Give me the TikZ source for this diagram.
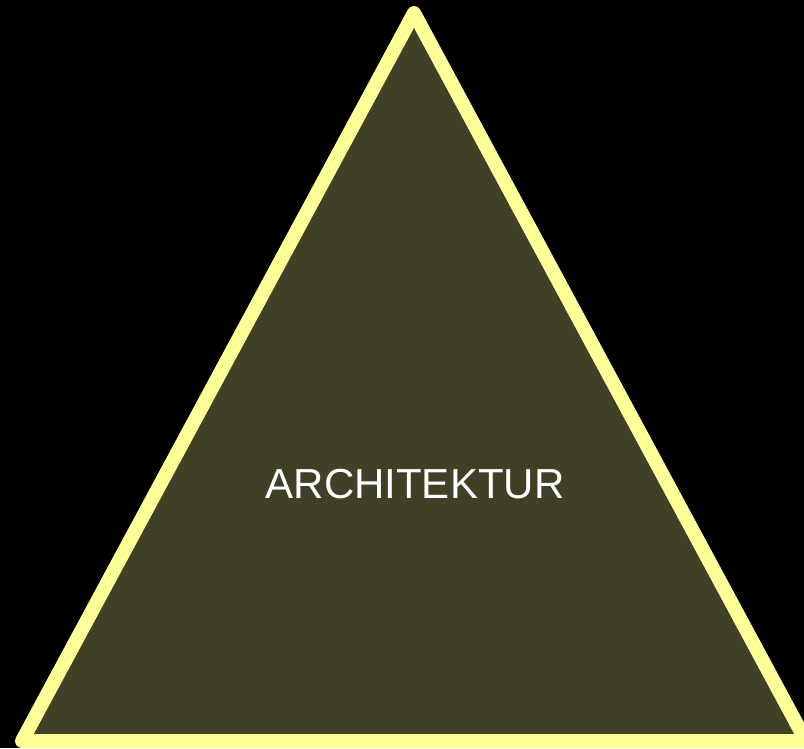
\documentclass[tikz,border=0pt]{standalone}
\usepackage{fontspec}
\setmainfont{Liberation Sans}
\usepackage{xcolor}
\definecolor{rimyellow}{HTML}{FFFF99}
\definecolor{olivefill}{HTML}{404027}
\begin{document}
\begin{tikzpicture}[x=1pt, y=-1pt]
  \fill[black] (0,0) rectangle (804,748);
  \useasboundingbox (0,0) rectangle (804,748);
  \clip (0,0) rectangle (804,748);
  \coordinate (top)   at (414,13);
  \coordinate (left)  at (22,741);
  \coordinate (right) at (806,741);
  \draw[rimyellow, fill=olivefill, line width=14pt, line join=round]
    (top) -- (right) -- (left) -- cycle;
  \node[text=white, font=\fontsize{42}{50}\selectfont, inner sep=0pt] (label) at (415,484) {ARCHITEKTUR};
\end{tikzpicture}
\end{document}
